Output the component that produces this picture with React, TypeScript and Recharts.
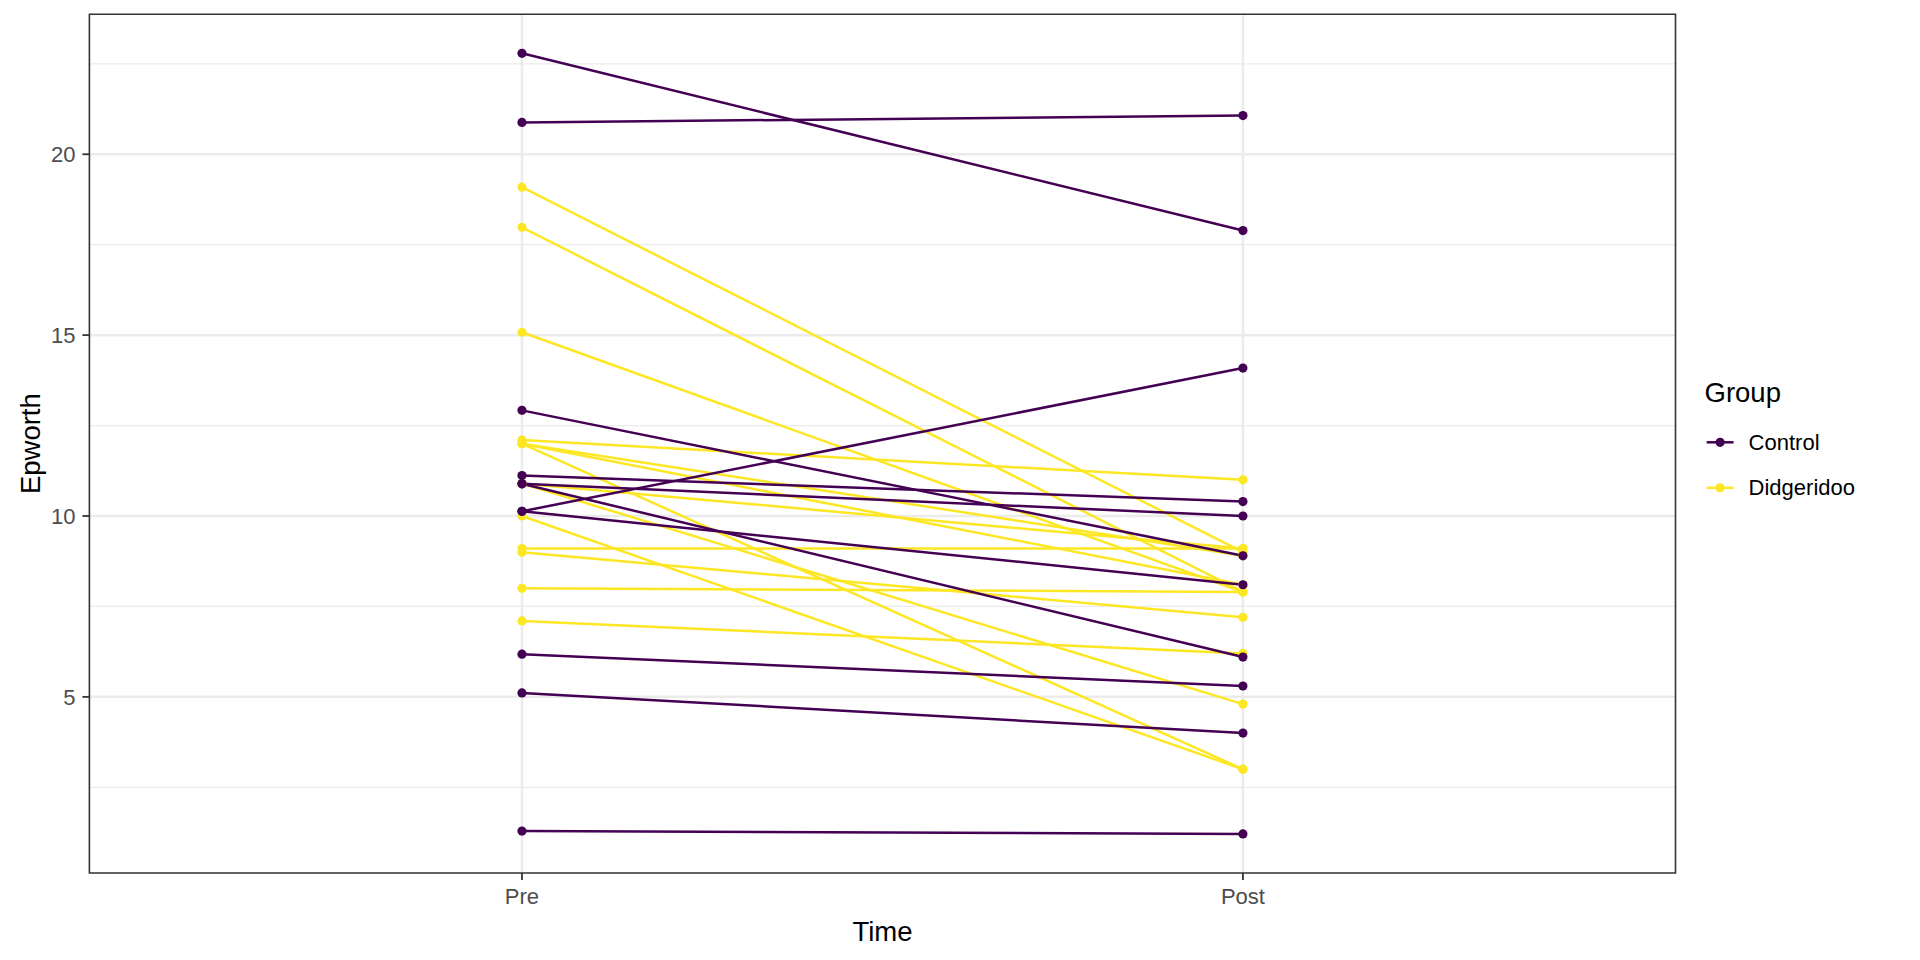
import React from 'react';
import { LineChart, Line, XAxis, YAxis, CartesianGrid, ReferenceArea } from 'recharts';

// ---- data ----
const timeLabels = ['Pre', 'Post'];
const timeIndex = [1, 2];
const groups = ['Control', 'Didgeridoo'];
const groupColors = ['#440154', '#FDE725'];

const controlPre = [22.79, 20.88, 12.92, 11.12, 10.89, 10.89, 10.13, 10.13, 6.18, 5.11, 1.29];
const controlPost = [17.89, 21.07, 8.9, 10.4, 10.0, 6.1, 14.09, 8.1, 5.3, 4.0, 1.21];
const didgPre = [19.09, 17.98, 15.08, 12.1, 12.0, 12.0, 12.0, 10.9, 10.9, 10.0, 9.1, 9.0, 8.0, 7.1];
const didgPost = [9.0, 7.9, 7.9, 11.0, 3.0, 8.9, 8.1, 4.8, 9.1, 3.0, 9.1, 7.2, 7.9, 6.2];

const yTicks = [5, 10, 15, 20];
const yMinor = [2.5, 7.5, 12.5, 17.5, 22.5];

const FONT = '"Liberation Sans", Arial, sans-serif';

// build table
const table = timeIndex.map((x, i) => {
  const row: Record<string, number | string> = { x, time: timeLabels[i] };
  controlPre.forEach((v, k) => {
    row['c' + k] = i === 0 ? v : controlPost[k];
  });
  didgPre.forEach((v, k) => {
    row['d' + k] = i === 0 ? v : didgPost[k];
  });
  return row;
});

const allVals = [...controlPre, ...controlPost, ...didgPre, ...didgPost];
const vMin = Math.min(...allVals);
const vMax = Math.max(...allVals);
const pad = (vMax - vMin) * 0.05;
const yDomain: [number, number] = [vMin - pad, vMax + pad];
const xDomain: [number, number] = [0.4, 2.6];

const seriesKeys = [
  ...didgPre.map((_, k) => ({ key: 'd' + k, color: groupColors[1] })),
  ...controlPre.map((_, k) => ({ key: 'c' + k, color: groupColors[0] })),
];

const LegendBox = () => (
  <svg
    width={230}
    height={150}
    style={{ position: 'absolute', left: 1690, top: 360 }}
  >
    <text x={14.5} y={41.7} fontSize={27.5} fontFamily={FONT} fill="#000">
      Group
    </text>
    {groups.map((g, i) => {
      const y = 82.3 + i * 45.5;
      return (
        <g key={g}>
          <line x1={16.7} x2={43.6} y1={y} y2={y} stroke={groupColors[i]} strokeWidth={2.5} />
          <circle cx={30.1} cy={y} r={4.6} fill={groupColors[i]} />
          <text x={58.6} y={y} dominantBaseline="central" fontSize={22} fontFamily={FONT} fill="#000">
            {g}
          </text>
        </g>
      );
    })}
  </svg>
);

export default function App() {
  return (
    <div style={{ position: 'absolute', left: 0, top: 0, width: 1920, height: 960, background: '#fff' }}>
      <LineChart
        width={1920}
        height={960}
        data={table}
        margin={{ top: 14.3, right: 244.5, bottom: 0, left: 0 }}
      >
        <CartesianGrid
          stroke="#EBEBEB"
          strokeWidth={1.3}
          horizontalValues={yMinor}
          vertical={false}
        />
        <CartesianGrid
          stroke="#EBEBEB"
          strokeWidth={2.5}
          horizontalValues={yTicks}
          verticalValues={timeIndex}
        />
        <XAxis
          dataKey="x"
          type="number"
          domain={xDomain}
          ticks={timeIndex}
          allowDataOverflow
          height={87}
          axisLine={false}
          tickSize={7}
          tickMargin={8}
          tickLine={{ stroke: '#333333', strokeWidth: 1.8 }}
          tick={{ fill: '#4D4D4D', fontSize: 22, fontFamily: FONT }}
          tickFormatter={(v: number) => timeLabels[timeIndex.indexOf(v)]}
          label={{
            content: (props: any) => {
              const vb = props.viewBox || {};
              return (
                <text
                  x={vb.x + vb.width / 2}
                  y={931}
                  textAnchor="middle"
                  dominantBaseline="central"
                  fontSize={27.5}
                  fontFamily={FONT}
                  fill="#000"
                >
                  Time
                </text>
              );
            },
          }}
        />
        <YAxis
          type="number"
          domain={yDomain}
          ticks={yTicks}
          allowDataOverflow
          width={89.4}
          axisLine={false}
          tickSize={7}
          tickMargin={7}
          tickLine={{ stroke: '#333333', strokeWidth: 1.8 }}
          tick={{ fill: '#4D4D4D', fontSize: 22, fontFamily: FONT }}
          label={{
            content: (props: any) => {
              const vb = props.viewBox || {};
              const cy = vb.y + vb.height / 2;
              return (
                <text
                  x={30.5}
                  y={cy}
                  transform={`rotate(-90 30.5 ${cy})`}
                  textAnchor="middle"
                  dominantBaseline="central"
                  fontSize={27.5}
                  fontFamily={FONT}
                  fill="#000"
                >
                  Epworth
                </text>
              );
            },
          }}
        />
        {seriesKeys.map((s) => (
          <Line
            key={'l' + s.key}
            dataKey={s.key}
            stroke={s.color}
            strokeWidth={2.5}
            dot={false}
            activeDot={false}
            isAnimationActive={false}
          />
        ))}
        {seriesKeys.map((s) => (
          <Line
            key={'p' + s.key}
            dataKey={s.key}
            stroke="none"
            strokeWidth={0}
            dot={{ r: 4.6, fill: s.color, stroke: s.color, strokeWidth: 0 }}
            activeDot={false}
            isAnimationActive={false}
          />
        ))}
        <ReferenceArea
          x1={xDomain[0]}
          x2={xDomain[1]}
          y1={yDomain[0]}
          y2={yDomain[1]}
          fill="none"
          fillOpacity={0}
          stroke="#333333"
          strokeWidth={1.6}
          strokeOpacity={1}
          ifOverflow="visible"
        />
      </LineChart>
      <LegendBox />
    </div>
  );
}
